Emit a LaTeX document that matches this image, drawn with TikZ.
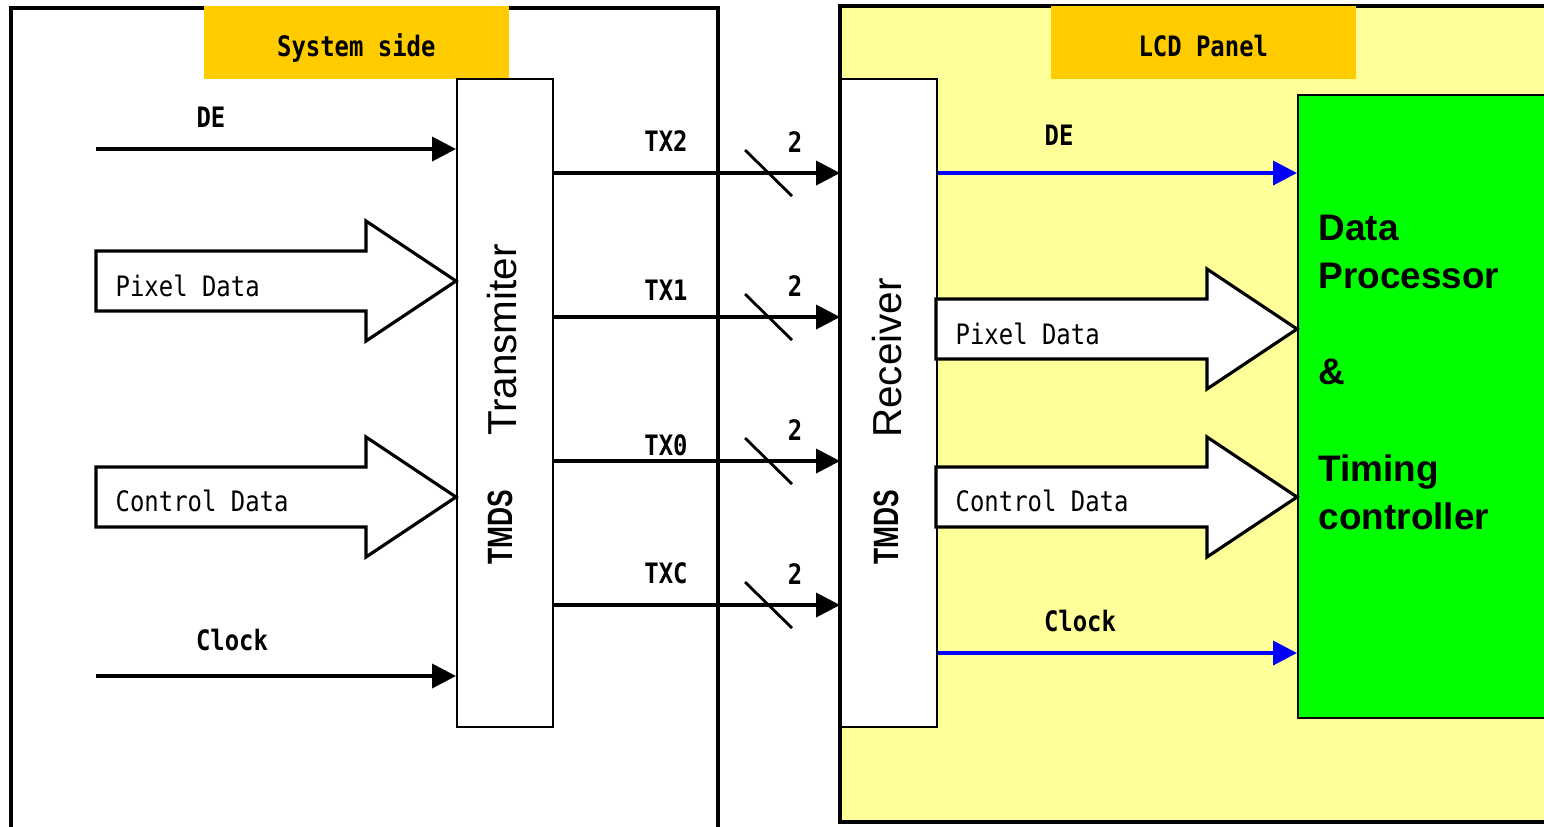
\documentclass[tikz,border=0pt]{standalone}
\usepackage{fontspec}
\setmainfont{Liberation Sans}
\newfontfamily\lblfont[FakeStretch=0.85]{DejaVu Sans Mono}
\newfontfamily\narrowfont[FakeStretch=0.75]{Liberation Sans}
\usetikzlibrary{arrows.meta}
\definecolor{tagorange}{HTML}{FFCC00}
\definecolor{panelyellow}{HTML}{FFFF99}
\definecolor{procgreen}{HTML}{00FF00}
\tikzset{
  lbl/.style={font=\lblfont\bfseries\fontsize{8}{9}\selectfont, inner sep=0pt},
  datalbl/.style={font=\lblfont\fontsize{8}{9}\selectfont, inner sep=0pt, anchor=west},
  sig/.style={line width=1.1pt, -{Triangle[length=6.8pt,width=6.8pt]}},
  bluesig/.style={sig, blue},
  bigarrow/.style={line width=0.9pt, fill=white, miter limit=20},
  chip/.style={draw, line width=0.5pt, fill=white, minimum width=0.96cm, minimum height=6.48cm, anchor=north west, inner sep=0pt},
  tag/.style={fill=tagorange, minimum width=3.05cm, minimum height=0.73cm, anchor=north west, inner sep=0pt, text height=8.25pt, text depth=0pt, font=\lblfont\bfseries\fontsize{8}{9}\selectfont},
  vtext/.style={rotate=90, font=\fontsize{11.5}{12}\selectfont, inner sep=0pt},
  vnarrow/.style={rotate=90, font=\narrowfont\bfseries\fontsize{10}{12}\selectfont, inner sep=0pt},
}
\begin{document}
\begin{tikzpicture}[x=0.01cm, y=-0.01cm]
		\useasboundingbox (0,0) rectangle (1544,826);
		\clip (0,0) rectangle (1544,826);
		% frames
		\draw[line width=1.1pt, fill=panelyellow] (840,6) rectangle (1560,822);
		\draw[line width=1.1pt] (11,840) -- (11,8) -- (718,8) -- (718,840);
		\node[tag] (systag) at (203,5) {System side};
		\node[tag] (lcdtag) at (1050,5) {LCD Panel};
		% blocks
		\node[chip] (tx) at (456,78) {};
		\node[chip] (rx) at (840,78) {};
		\node[draw, line width=0.6pt, fill=procgreen, anchor=north west, minimum width=2.7cm, minimum height=6.23cm, inner sep=0pt] (proc) at (1297,94) {};
		\node[vnarrow] at (500,527) {TMDS};
		\node[vtext] at (502,340) {Transmiter};
		\node[vnarrow] at (886,527) {TMDS};
		\node[vtext] at (887,358) {Receiver};
		\node[anchor=north west, align=left, inner sep=0pt, font=\bfseries\fontsize{10.5}{13.7}\selectfont] (proctext) at (1318,214) {Data\\Processor\\[13.7pt]\&\\[13.7pt]Timing\\controller};
		% system side inputs
		\coordinate (dein) at (96,149);
		\coordinate (clkin) at (96,676);
		\draw[sig] (dein) -- (dein -| tx.west);
		\draw[sig] (clkin) -- (clkin -| tx.west);
		\draw[bigarrow] (96,251) -- (366,251) -- (366,221) -- (456,281) -- (366,341) -- (366,311) -- (96,311) -- cycle;
		\draw[bigarrow] (96,467) -- (366,467) -- (366,437) -- (456,497) -- (366,557) -- (366,527) -- (96,527) -- cycle;
		\node[lbl] at (211,117) {DE};
		\node[lbl] at (232,640) {Clock};
		\node[datalbl] at (115,286) {Pixel Data};
		\node[datalbl] at (115,501) {Control Data};
		% links
		\foreach \y/\txlab/\ly in {173/TX2/141, 317/TX1/290, 461/TX0/445, 605/TXC/573} {
			\coordinate (row) at (0,\y);
			\draw[sig] (row -| tx.east) -- (row -| rx.west);
			\draw[line width=0.8pt] (745,\y-23) -- (792,\y+23);
			\node[lbl] at (666,\ly) {\txlab};
			\node[lbl] at (795,\y-31) {2};
		}
		% panel side outputs
		\coordinate (deout) at (0,173);
		\coordinate (clkout) at (0,653);
		\draw[bluesig] (deout -| rx.east) -- (deout -| proc.west);
		\draw[bluesig] (clkout -| rx.east) -- (clkout -| proc.west);
		\draw[bigarrow] (936,299) -- (1207,299) -- (1207,269) -- (1297,329) -- (1207,389) -- (1207,359) -- (936,359) -- cycle;
		\draw[bigarrow] (936,467) -- (1207,467) -- (1207,437) -- (1297,497) -- (1207,557) -- (1207,527) -- (936,527) -- cycle;
		\node[lbl] at (1059,135) {DE};
		\node[lbl] at (1080,621) {Clock};
		\node[datalbl] at (955,334) {Pixel Data};
		\node[datalbl] at (955,501) {Control Data};
\end{tikzpicture}
\end{document}
